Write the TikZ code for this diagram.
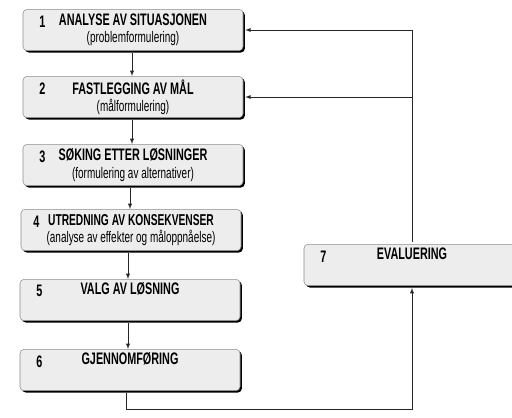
\documentclass[tikz,border=0pt]{standalone}
\usepackage{fontspec}
\setmainfont{Liberation Sans}[FakeStretch=0.65]
\usetikzlibrary{arrows,shadows}

\newcommand{\ttl}[1]{{\bfseries\fontsize{12.5}{13}\selectfont #1}}

\begin{document}
\begin{tikzpicture}[x=0.75pt, y=-0.75pt]
        \tikzstyle{block} = [rectangle, draw=black!45, rounded corners=3pt, minimum width=165pt, minimum height=31pt, inner sep=1.5pt, align=center, fill=black!7, drop shadow={shadow xshift=1.4pt, shadow yshift=-1.4pt, fill=black, opacity=1}, font=\fontsize{11.5}{13}\selectfont]
        \tikzstyle{nr} = [anchor=west, xshift=9pt, yshift=6.5pt, font=\bfseries\fontsize{12.5}{13}\selectfont]
        \tikzstyle{arrow} = [-latex, thin, black!85]

        \useasboundingbox (0,0) rectangle (512,418);

        \node (b1) [block, label={[nr]west:1}] at (133,30) {\ttl{ANALYSE AV SITUASJONEN}\\(problemformulering)};
        \node (b2) [block, label={[nr]west:2}] at (133,97) {\ttl{FASTLEGGING AV MÅL}\\(målformulering)};
        \node (b3) [block, label={[nr]west:3}] at (133,165) {\ttl{SØKING ETTER LØSNINGER}\\(formulering av alternativer)};
        \node (b4) [block, label={[nr,xshift=-3pt]west:4}] at (131,230) {{\bfseries\fontsize{11.8}{13}\selectfont UTREDNING AV KONSEKVENSER}\\(analyse av effekter og måloppnåelse)};
        \node (b5) [block, label={[nr]west:5}] at (130,300) {\ttl{VALG AV LØSNING}\\\strut};
        \node (b6) [block, label={[nr]west:6}] at (130,370) {\ttl{GJENNOMFØRING}\\\strut};
        \node (b7) [block, minimum width=162pt, label={[nr]west:7}] at (412,265) {\ttl{EVALUERING}\\\strut};

        \draw[arrow, shorten <=1.5pt] (b1.south -| 132,0) -- (b2.north -| 132,0);
        \draw[arrow, shorten <=1.5pt] (b2.south -| 132,0) -- (b3.north -| 132,0);
        \draw[arrow, shorten <=1.5pt] (b3.south -| 130,0) -- (b4.north -| 130,0);
        \draw[arrow, shorten <=1.5pt] (b4.south -| 128,0) -- (b5.north -| 128,0);
        \draw[arrow, shorten <=1.5pt] (b5.south -| 128,0) -- (b6.north -| 128,0);
        \draw[arrow, shorten <=1.5pt, shorten >=1.5pt] (b6.south -| 126,0) -- ++(0,18) -| (b7.south);
        \draw[arrow, shorten <=1.5pt, shorten >=1.5pt] (b7.north) |- (b1.east);
        \draw[arrow, shorten >=1.5pt] (b7.north |- b2.east) -- (b2.east);
    \end{tikzpicture}
\end{document}
